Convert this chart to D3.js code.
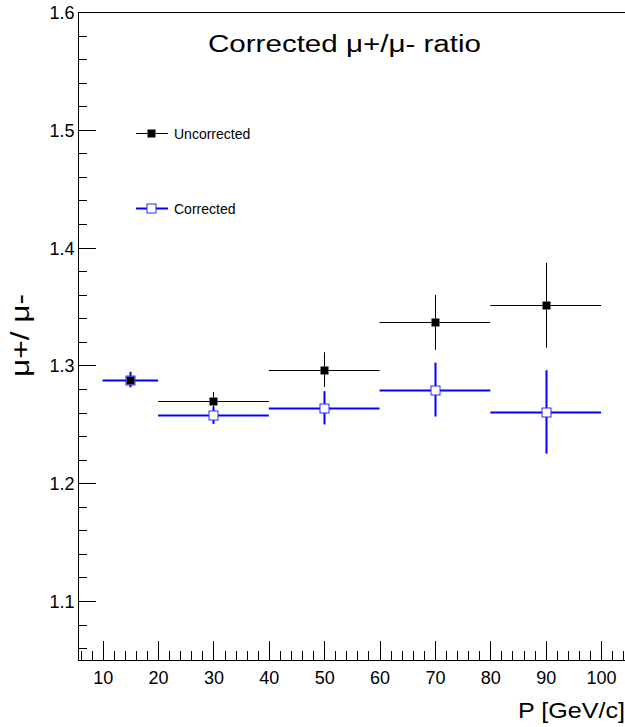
<!DOCTYPE html>
<html>
<head>
<meta charset="utf-8">
<script src="https://cdn.jsdelivr.net/npm/d3@7"></script>
<style>
  html, body { margin: 0; padding: 0; background: #fff; }
  svg { display: block; font-family: "Liberation Sans", Arial, Helvetica, sans-serif; }
</style>
</head>
<body>
<svg id="chart" width="625" height="727"></svg>
<script>
// Momentum bins (GeV/c) and their centres
const binEdges = [10, 20, 40, 60, 80, 100];
const binCenters = [15, 30, 50, 70, 90];

// mu+/mu- ratio before correction
const uncorrected = [1.288, 1.270, 1.2965, 1.3365, 1.351];
const uncorrectedErr = [0.0065, 0.0074, 0.0147, 0.0233, 0.036];

// mu+/mu- ratio after correction
const corrected = [1.288, 1.2575, 1.264, 1.2795, 1.2605];
const correctedErr = [0.0065, 0.0071, 0.0141, 0.0229, 0.0354];

// Axis ticks
const xMajorTicks = [10, 20, 30, 40, 50, 60, 70, 80, 90, 100];
const yMajorTicks = [1.1, 1.2, 1.3, 1.4, 1.5, 1.6];
const yTickLabels = ["1.1", "1.2", "1.3", "1.4", "1.5", "1.6"];

const svg = d3.select("#chart");
const W = 625, H = 727;
const padL = 78.5, padT = 12, padB = 660.5, padR = 625.4;

const x = d3.scaleLinear().domain([5.63, 104.4]).range([padL, padR]);
const y = d3.scaleLinear().domain([1.0495, 1.6]).range([padB, padT]);

const xMinorTicks = d3.range(6, 105, 2).filter(v => v % 10 !== 0);
const yMinorTicks = d3.range(1.06, 1.59, 0.02).filter(v => Math.abs(v * 10 - Math.round(v * 10)) > 1e-6);

// Frame: left axis, bottom axis, top edge
const frame = svg.append("g").attr("stroke", "#000").attr("stroke-width", 1).attr("shape-rendering", "crispEdges");
frame.append("line").attr("x1", padL).attr("x2", padL).attr("y1", padT).attr("y2", padB);
frame.append("line").attr("x1", padL).attr("x2", W).attr("y1", padB).attr("y2", padB);
frame.append("line").attr("x1", padL).attr("x2", W).attr("y1", padT).attr("y2", padT);

// X axis ticks (pointing inward)
const xAxisMajor = d3.axisBottom(x).tickValues(xMajorTicks).tickSize(-20).tickPadding(0).tickFormat(d3.format("d"));
const gx = svg.append("g").attr("transform", `translate(0,${padB})`).call(xAxisMajor);
gx.select(".domain").remove();
gx.selectAll(".tick line").attr("stroke", "#000").attr("shape-rendering", "crispEdges");
gx.selectAll(".tick text")
  .attr("y", 0).attr("dy", "23.5px")
  .attr("fill", "#000").style("font-size", "18px")
  .style("font-family", "'Liberation Sans', Arial, sans-serif");

const xAxisMinor = d3.axisBottom(x).tickValues(xMinorTicks).tickSize(-10).tickFormat("");
const gxm = svg.append("g").attr("transform", `translate(0,${padB})`).call(xAxisMinor);
gxm.select(".domain").remove();
gxm.selectAll(".tick line").attr("stroke", "#000").attr("shape-rendering", "crispEdges");

// Y axis ticks (pointing inward)
const yAxisMajor = d3.axisLeft(y).tickValues(yMajorTicks).tickSize(-17).tickPadding(0)
  .tickFormat((d, i) => yTickLabels[i]);
const gy = svg.append("g").attr("transform", `translate(${padL},0)`).call(yAxisMajor);
gy.select(".domain").remove();
gy.selectAll(".tick line").attr("stroke", "#000").attr("shape-rendering", "crispEdges");
gy.selectAll(".tick text")
  .attr("x", -4).attr("dy", "0.36em")
  .attr("fill", "#000").style("font-size", "18px")
  .style("font-family", "'Liberation Sans', Arial, sans-serif");

const yAxisMinor = d3.axisLeft(y).tickValues(yMinorTicks).tickSize(-8).tickFormat("");
const gym = svg.append("g").attr("transform", `translate(${padL},0)`).call(yAxisMinor);
gym.select(".domain").remove();
gym.selectAll(".tick line").attr("stroke", "#000").attr("shape-rendering", "crispEdges");

// Titles
svg.append("text")
  .attr("x", 208).attr("y", 52)
  .attr("textLength", 273).attr("lengthAdjust", "spacingAndGlyphs")
  .style("font-size", "23px").attr("fill", "#000")
  .text("Corrected μ+/μ- ratio");

svg.append("text")
  .attr("x", 518).attr("y", 718)
  .attr("textLength", 107).attr("lengthAdjust", "spacingAndGlyphs")
  .style("font-size", "22px").attr("fill", "#000")
  .text("P [GeV/c]");

svg.append("text")
  .attr("transform", "translate(29,377) rotate(-90)")
  .attr("x", 0).attr("y", 0)
  .attr("textLength", 83).attr("lengthAdjust", "spacingAndGlyphs")
  .style("font-size", "25px").attr("fill", "#000")
  .text("μ+/ μ-");

// Draws one series: error bars stop at the marker edge, then the marker
function drawSeries(values, errors, opts) {
  const g = svg.append("g");
  const half = opts.size / 2;
  values.forEach((v, i) => {
    const cx = Math.round(x(binCenters[i])) + 0.5;
    const cy = Math.round(y(v)) + 0.5;
    const xl = x(binEdges[i]), xr = x(binEdges[i + 1]);
    const yt = y(v + errors[i]), yb = y(v - errors[i]);
    const segs = [
      [xl, cy, cx - half, cy],
      [cx + half, cy, xr, cy],
      [cx, yt, cx, cy - half],
      [cx, cy + half, cx, yb]
    ];
    g.selectAll(null).data(segs).enter().append("line")
      .attr("x1", d => d[0]).attr("y1", d => d[1])
      .attr("x2", d => d[2]).attr("y2", d => d[3])
      .attr("stroke", opts.color).attr("stroke-width", opts.lineWidth);
    g.append("rect")
      .attr("x", cx - half).attr("y", cy - half)
      .attr("width", opts.size).attr("height", opts.size)
      .attr("fill", opts.fill).attr("stroke", opts.markerStroke)
      .attr("stroke-width", 1);
  });
}

drawSeries(uncorrected, uncorrectedErr, { color: "#000", lineWidth: 1, size: 8, fill: "#000", markerStroke: "none" });
drawSeries(corrected, correctedErr, { color: "#0000ff", lineWidth: 2, size: 9, fill: "none", markerStroke: "#2a2aff" });

// Legend
const legend = svg.append("g");
const legendItems = [
  { label: "Uncorrected", y: 133.5, color: "#000", lw: 1, size: 8, fill: "#000", stroke: "none" },
  { label: "Corrected", y: 208.5, color: "#0000ff", lw: 2, size: 9, fill: "none", stroke: "#2a2aff" }
];
legendItems.forEach(it => {
  const cx = 151.5, half = it.size / 2;
  legend.append("line").attr("x1", 136).attr("x2", cx - half).attr("y1", it.y).attr("y2", it.y)
    .attr("stroke", it.color).attr("stroke-width", it.lw);
  legend.append("line").attr("x1", cx + half).attr("x2", 168).attr("y1", it.y).attr("y2", it.y)
    .attr("stroke", it.color).attr("stroke-width", it.lw);
  legend.append("rect").attr("x", cx - half).attr("y", it.y - half)
    .attr("width", it.size).attr("height", it.size)
    .attr("fill", it.fill).attr("stroke", it.stroke).attr("stroke-width", 1);
  legend.append("text").attr("x", 174).attr("y", it.y + 5.5)
    .style("font-size", "14px").attr("fill", "#000").text(it.label);
});
</script>
</body>
</html>
